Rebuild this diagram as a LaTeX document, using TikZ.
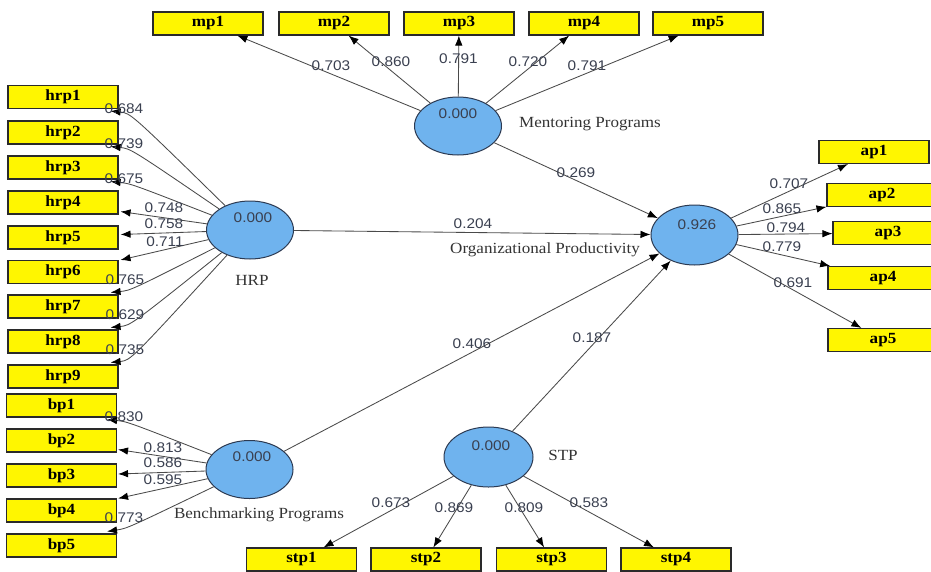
\documentclass[tikz,border=0pt]{standalone}
\usepackage{fontspec}
\setmainfont{Liberation Serif}[FakeStretch=1.1]
\newfontfamily\numfont{Liberation Sans}[FakeStretch=1.1]
\usetikzlibrary{arrows.meta,calc,shapes.geometric}
\definecolor{yel}{HTML}{FFF600}
\definecolor{boxb}{HTML}{2A2A2A}
\definecolor{latf}{HTML}{6FB3EE}
\definecolor{latb}{HTML}{2C3A52}
\definecolor{lin}{HTML}{4A4A4A}
\definecolor{numc}{HTML}{3A4050}
\definecolor{namec}{HTML}{333333}
\begin{document}
\begin{tikzpicture}[x=1pt,y=-1pt,
  ind/.style={draw=boxb, fill=yel, line width=1.1pt, minimum width=110pt, minimum height=23pt, inner sep=0pt, font=\fontsize{15.5}{15.5}\selectfont\bfseries},
  lat/.style={ellipse, draw=latb, fill=latf, line width=1pt, minimum width=87pt, minimum height=58pt, inner sep=0pt},
  arr/.style={draw=lin, line width=0.85pt, -{Latex[length=10pt,width=7.5pt,color=black]}},
  num/.style={font=\numfont\fontsize{14}{14}\selectfont, text=numc, inner sep=0pt},
  lname/.style={font=\fontsize{15.5}{15.5}\selectfont, text=namec, inner sep=0pt}]
\useasboundingbox (0,0) rectangle (931,571);

% latent variables
\node[lat] (MP) at (458,126) {};
\node[lat] (H) at (250,230) {};
\node[lat] (BP) at (249.5,469.5) {};
\node[lat,minimum height=60pt] (OP) at (694.5,235) {};
\node[lat,minimum width=89pt,minimum height=60pt] (S) at (488.5,457) {};

\node[num] (MPv) at (458,114) {0.000};
\node[num] (Hv) at (253,218) {0.000};
\node[num] (BPv) at (252,457) {0.000};
\node[num] (OPv) at (697,225) {0.926};
\node[num] (Sv) at (491,446) {0.000};

\node[lname] (MPn) at (590,124) {Mentoring Programs};
\node[lname] (Hn) at (252,280) {HRP};
\node[lname] (BPn) at (259,515) {Benchmarking Programs};
\node[lname] (OPn) at (545,250) {Organizational Productivity};
\node[lname] (Sn) at (563,455) {STP};

% indicators
\foreach \i/\x in {1/208,2/334,3/459,4/584,5/708}
  \node[ind] (mp\i) at (\x,23.5) {mp\i};
\foreach \i/\y in {1/97,2/132.5,3/167.5,4/202.5,5/237.5,6/272,7/306.5,8/341.5,9/376.5}
  \node[ind] (hrp\i) at (63,\y) {hrp\i};
\foreach \i/\y in {1/405.5,2/440.5,3/475.5,4/510.5,5/545.5}
  \node[ind] (bp\i) at (61.5,\y) {bp\i};
\node[ind] (ap1) at (874,152) {ap1};
\node[ind] (ap2) at (882,195) {ap2};
\node[ind] (ap3) at (888,233) {ap3};
\node[ind] (ap4) at (883,278) {ap4};
\node[ind] (ap5) at (883,340) {ap5};
\foreach \i/\x in {1/301.5,2/426,3/551.5,4/676}
  \node[ind] (stp\i) at (\x,559.5) {stp\i};

% outer arrows
\foreach \i in {1,...,5} \draw[arr] (MP) -- (mp\i);
\foreach \i in {1,...,5} \draw[arr] (OP) -- (ap\i);
\foreach \i in {1,...,4} \draw[arr] (S) -- (stp\i);

\foreach \i in {1,2,3}
  \draw[arr] (H) .. controls ($(hrp\i.south east)+(12,4)$) .. ($(hrp\i.south east)+(-8,2)$);
\draw[arr] (H) -- ($(hrp4.south east)+(2,-3)$);
\draw[arr] (H) -- ($(hrp5.east)+(2,-3)$);
\draw[arr] (H) -- ($(hrp6.north east)+(2,0)$);
\foreach \i in {7,8,9}
  \draw[arr] (H) .. controls ($(hrp\i.north east)+(12,-4)$) .. ($(hrp\i.north east)+(-8,-2)$);

\draw[arr] (BP) .. controls ($(bp1.south east)+(10,4)$) .. ($(bp1.south east)+(-10,2)$);
\draw[arr] (BP) -- ($(bp2.south east)+(1,-3)$);
\draw[arr] (BP) -- ($(bp3.east)+(1,-1.5)$);
\draw[arr] (BP) -- ($(bp4.north east)+(1,0)$);
\draw[arr] (BP) .. controls ($(bp5.north east)+(10,-5)$) .. ($(bp5.north east)+(-10,-2)$);

% structural paths
\draw[arr] (MP) -- (OP);
\draw[arr] (H) -- (OP);
\draw[arr] (BP) -- (OP);
\draw[arr] (S) -- (OP);

% loadings
\node[num] at (331,66) {0.703};
\node[num] at (391,62) {0.860};
\node[num] at (458.5,59) {0.791};
\node[num] at (528,62) {0.720};
\node[num] at (587,66) {0.791};

\node[num] at (124,109) {0.684};
\node[num] at (124,144) {0.739};
\node[num] at (124,179) {0.675};
\node[num] at (164,208) {0.748};
\node[num] at (164,224) {0.758};
\node[num] at (165,242) {0.711};
\node[num] at (125,280) {0.765};
\node[num] at (125,315) {0.629};
\node[num] at (125,350) {0.735};

\node[num] at (124,417) {0.830};
\node[num] at (163,448) {0.813};
\node[num] at (163,463) {0.586};
\node[num] at (163,480) {0.595};
\node[num] at (124,518) {0.773};

\node[num] at (789,184) {0.707};
\node[num] at (782,209) {0.865};
\node[num] at (786,228) {0.794};
\node[num] at (782,247) {0.779};
\node[num] at (793,283) {0.691};

\node[num] at (391,503) {0.673};
\node[num] at (454,508) {0.869};
\node[num] at (524,508) {0.809};
\node[num] at (589,503) {0.583};

% path coefficients
\node[num] at (576,173) {0.269};
\node[num] at (473,224) {0.204};
\node[num] at (472,344) {0.406};
\node[num] at (592,338) {0.187};
\end{tikzpicture}
\end{document}
